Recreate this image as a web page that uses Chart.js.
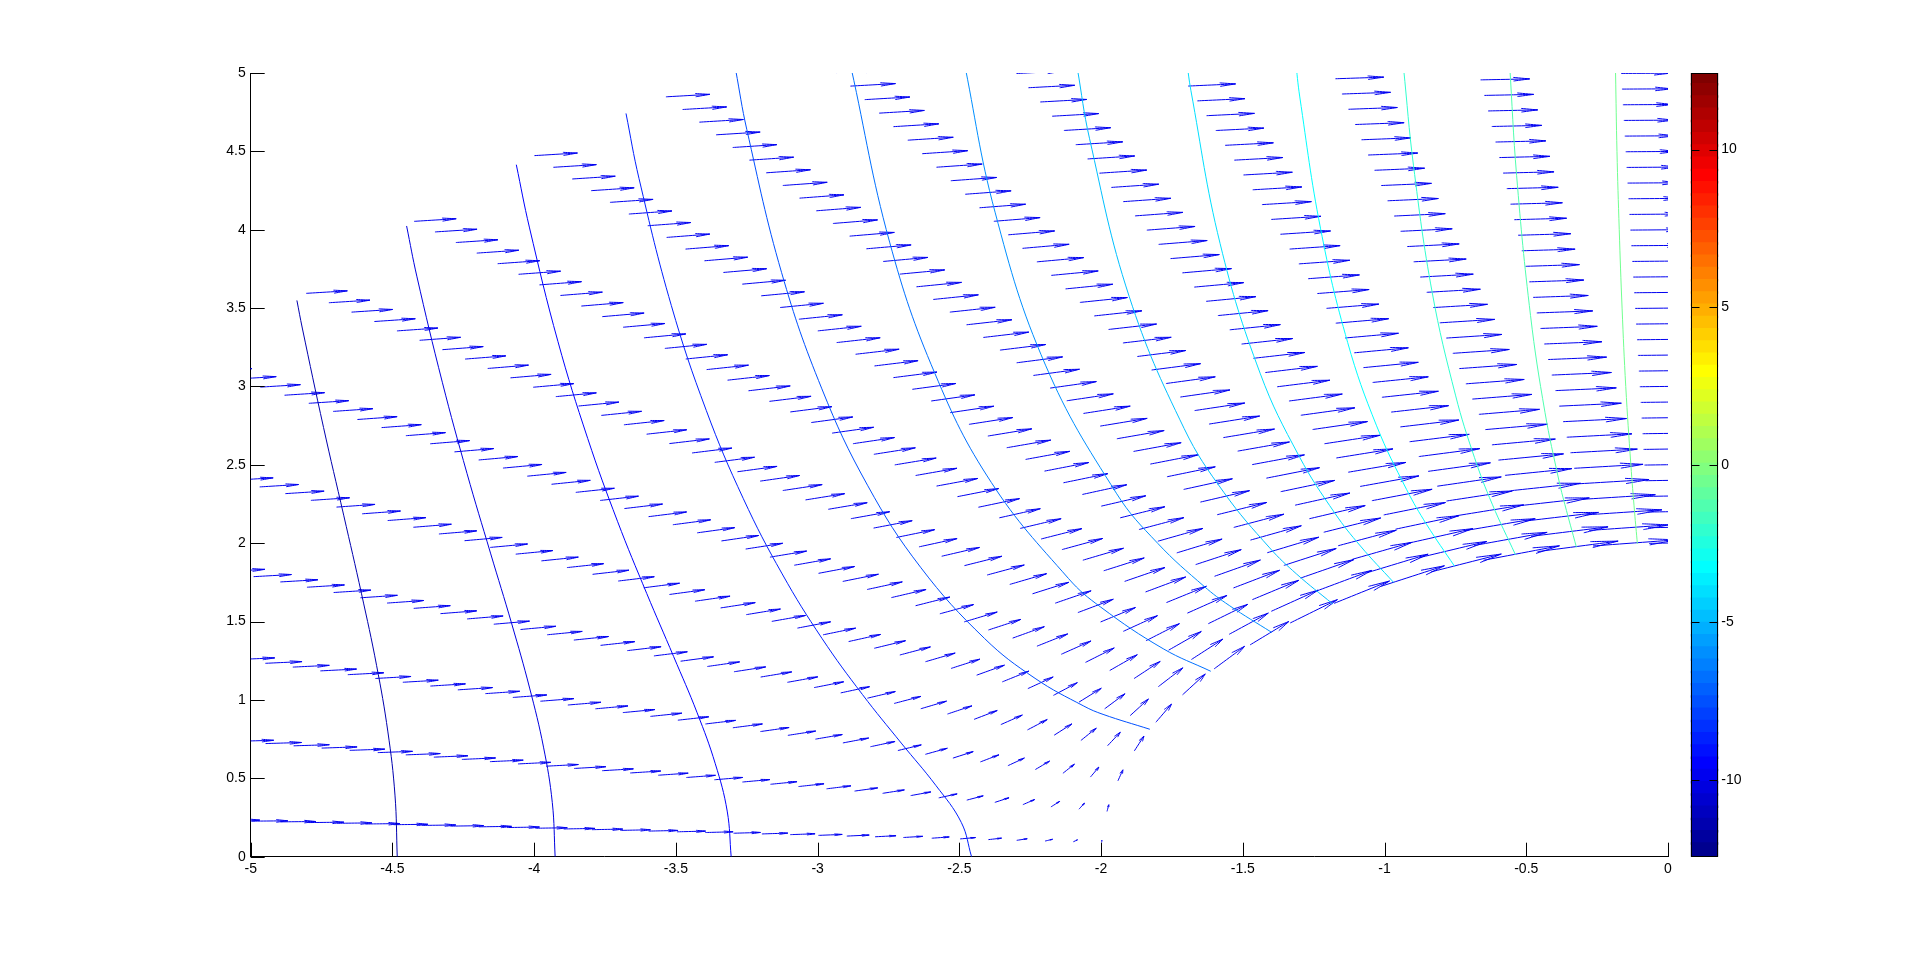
<!DOCTYPE html>
<html>
<head>
<meta charset="utf-8">
<title>Flow past a cylinder - quiver and potential lines</title>
<script src="https://cdn.jsdelivr.net/npm/chart.js@4.4.1/dist/chart.umd.min.js"></script>
<style>
    html, body { margin: 0; padding: 0; background: #fff; overflow: hidden; }
    #wrap { position: relative; width: 1921px; height: 963px; }
    #quiver { position: absolute; left: 0; top: 0; }
    #cbar { position: absolute; left: 1670px; top: 0; }
</style>
</head>
<body>
<div id="wrap">
    <canvas id="quiver" width="1921" height="963"></canvas>
    <canvas id="cbar" width="120" height="963"></canvas>
</div>
<script>
// axis ticks
const xTicks = [-5, -4.5, -4, -3.5, -3, -2.5, -2, -1.5, -1, -0.5, 0];
const yTicks = [0, 0.5, 1, 1.5, 2, 2.5, 3, 3.5, 4, 4.5, 5];
const cbarTicks = [-10, -5, 0, 5, 10];
const cbarMin = -12.43;
const cbarMax = 12.43;

const rayAngles = [2.6, 8.3, 14.0, 19.7, 25.4, 31.1, 36.8, 42.5, 48.2, 53.9, 59.6, 65.3, 71.0, 76.7, 82.4, 88.1];
// stations along each ray
const radii = [2.0, 2.1, 2.2, 2.3, 2.4, 2.5, 2.6, 2.7, 2.8, 2.9,
               3.0, 3.1, 3.2, 3.3, 3.4, 3.5, 3.6, 3.7, 3.8, 3.9,
               4.0, 4.1, 4.2, 4.3, 4.4, 4.5, 4.6, 4.7, 4.8, 4.9,
               5.0, 5.1, 5.2, 5.3, 5.4, 5.5, 5.6, 5.7, 5.8, 5.9, 6.0];
const cylinderRadius = 2;     // inner edge of the arrow field
const arrowScale = 0.15;      // drawn length of a free-stream arrow (x units)

// potential value of each contour line (colorbar units), right to left
const contourLevels = [-0.45, -1.35, -2.26, -3.16, -4.06, -4.97, -5.87, -6.77, -7.67, -8.58, -9.48, -10.38, -11.29];

// contour lines, [x, y]
const iso0 = [[-0.108, 1.997], [-0.118, 2.2], [-0.131, 2.5], [-0.149, 3.0], [-0.162, 3.5], [-0.172, 4.0], [-0.180, 4.5], [-0.185, 5.0], [-0.188, 5.3]];
const iso1 = [[-0.323, 1.974], [-0.364, 2.248], [-0.385, 2.402], [-0.434, 2.835], [-0.485, 3.453], [-0.534, 4.345], [-0.559, 5.064]];
const iso2 = [[-0.538, 1.926], [-0.620, 2.249], [-0.683, 2.548], [-0.749, 2.940], [-0.832, 3.601], [-0.898, 4.412], [-0.933, 5.033]];
const iso3 = [[-0.753, 1.853], [-0.851, 2.118], [-0.922, 2.342], [-1.028, 2.749], [-1.130, 3.280], [-1.226, 4.010], [-1.299, 4.847], [-1.314, 5.081]];
const iso4 = [[-0.968, 1.750], [-1.085, 1.982], [-1.175, 2.191], [-1.301, 2.554], [-1.439, 3.085], [-1.580, 3.911], [-1.683, 4.887], [-1.698, 5.074]];
const iso5 = [[-1.183, 1.613], [-1.310, 1.803], [-1.405, 1.970], [-1.566, 2.322], [-1.707, 2.732], [-1.901, 3.575], [-2.041, 4.584], [-2.084, 5.031]];
const iso6 = [[-1.398, 1.431], [-1.548, 1.603], [-1.636, 1.724], [-1.800, 1.999], [-1.946, 2.319], [-2.196, 3.136], [-2.374, 4.112], [-2.486, 5.096]];
const iso7 = [[-1.613, 1.183], [-1.781, 1.327], [-2.001, 1.592], [-2.115, 1.775], [-2.387, 2.387], [-2.586, 3.082], [-2.746, 3.921], [-2.882, 5.034]];
const iso8 = [[-1.828, 0.813], [-1.993, 0.908], [-2.061, 0.961], [-2.233, 1.138], [-2.411, 1.392], [-2.637, 1.847], [-2.824, 2.370], [-2.985, 2.985], [-3.127, 3.726], [-3.250, 4.641], [-3.289, 5.018]];
const iso9 = [[-2.457, 0], [-2.493, 0.218], [-2.583, 0.455], [-2.705, 0.725], [-2.842, 1.035], [-2.984, 1.391], [-3.125, 1.804], [-3.262, 2.284], [-3.393, 2.848], [-3.516, 3.516], [-3.630, 4.326], [-3.676, 4.742]];
const iso10 = [[-3.305, 0], [-3.319, 0.291], [-3.361, 0.593], [-3.425, 0.918], [-3.508, 1.277], [-3.603, 1.680], [-3.706, 2.140], [-3.811, 2.668], [-3.916, 3.286], [-4.017, 4.017], [-4.063, 4.415]];
const iso11 = [[-3.926, 0], [-3.936, 0.345], [-3.967, 0.699], [-4.016, 1.076], [-4.079, 1.485], [-4.154, 1.937], [-4.237, 2.446], [-4.324, 3.027], [-4.414, 3.704], [-4.450, 4.024]];
const iso12 = [[-4.483, 0], [-4.491, 0.393], [-4.516, 0.796], [-4.556, 1.221], [-4.609, 1.677], [-4.672, 2.179], [-4.743, 2.738], [-4.818, 3.373], [-4.837, 3.549]];

const isolines = [iso0, iso1, iso2, iso3, iso4, iso5, iso6, iso7, iso8, iso9, iso10, iso11, iso12];

const FONT = { family: '"Liberation Sans", Arial, Helvetica, sans-serif', size: 14 };
const headLen = 0.33;
const headWid = 0.2;

// jet colormap, 64 steps like the matlab default
function jet(t) {
    const c = v => Math.round(255 * Math.max(0, Math.min(1, v)));
    return `rgb(${c(1.5 - Math.abs(4 * t - 3))},${c(1.5 - Math.abs(4 * t - 2))},${c(1.5 - Math.abs(4 * t - 1))})`;
}

function levelColor(level) {
    const t = (level - cbarMin) / (cbarMax - cbarMin);
    const idx = Math.max(0, Math.min(63, Math.floor(t * 64)));
    return jet((idx + 1) / 64);
}

// quiver arrows: shaft + two head strokes, gaps split the segments
function buildArrows() {
    const pts = [];
    const gap = () => ({ x: null, y: null });
    rayAngles.forEach(deg => {
        const th = Math.PI - deg * Math.PI / 180;
        radii.forEach(r => {
            const x = r * Math.cos(th);
            const y = r * Math.sin(th);
            const q = (cylinderRadius * cylinderRadius) / (r * r);
            const u = arrowScale * (1 - q * Math.cos(2 * th));
            const v = arrowScale * (-q * Math.sin(2 * th));
            const tx = x + u, ty = y + v;
            pts.push({ x: x, y: y }, { x: tx, y: ty }, gap());
            pts.push({ x: tx - headLen * (u + headWid * v), y: ty - headLen * (v - headWid * u) });
            pts.push({ x: tx, y: ty });
            pts.push({ x: tx - headLen * (u - headWid * v), y: ty - headLen * (v + headWid * u) }, gap());
        });
    });
    return pts;
}

const contourSets = isolines.map((line, i) => ({
    label: 'phi ' + contourLevels[i],
    data: line.map(p => ({ x: p[0], y: p[1] })),
    showLine: true,
    borderColor: levelColor(contourLevels[i]),
    borderWidth: 1,
    pointRadius: 0,
    pointHitRadius: 0,
    tension: 0.4,
    capBezierPoints: false,
    fill: false,
    clip: 0
}));

const arrowSet = {
    label: 'velocity',
    data: buildArrows(),
    showLine: true,
    borderColor: '#0000f0',
    borderWidth: 1,
    pointRadius: 0,
    pointHitRadius: 0,
    tension: 0.000001,
    capBezierPoints: false,
    spanGaps: false,
    fill: false,
    clip: 0
};

// matlab puts the tick marks inside the box
const inwardTicks = {
    id: 'inwardTicks',
    afterDraw(chart) {
        const { ctx, chartArea: a, scales } = chart;
        ctx.save();
        ctx.strokeStyle = '#000';
        ctx.lineWidth = 1;
        ctx.beginPath();
        scales.x.ticks.forEach(t => {
            const px = Math.round(scales.x.getPixelForValue(t.value)) + 0.5;
            ctx.moveTo(px, a.bottom);
            ctx.lineTo(px, a.bottom - 14);
        });
        scales.y.ticks.forEach(t => {
            const py = Math.round(scales.y.getPixelForValue(t.value)) + 0.5;
            ctx.moveTo(a.left, py);
            ctx.lineTo(a.left + 14, py);
        });
        ctx.stroke();
        ctx.restore();
    }
};

new Chart(document.getElementById('quiver'), {
    type: 'scatter',
    data: { datasets: [...contourSets, arrowSet] },
    options: {
        responsive: false,
        animation: false,
        devicePixelRatio: 1,
        events: [],
        layout: { padding: { left: 0, right: 253, top: 73, bottom: 66.3 } },
        plugins: { legend: { display: false }, tooltip: { enabled: false } },
        scales: {
            x: {
                type: 'linear',
                min: -5,
                max: 0,
                afterBuildTicks: s => { s.ticks = xTicks.map(v => ({ value: v })); },
                afterFit: s => { s.height = 40; },
                grid: { display: true, drawOnChartArea: false, drawTicks: false },
                border: { display: true, color: '#000', width: 1 },
                ticks: { color: '#000', font: FONT, padding: 4, maxRotation: 0, autoSkip: false, callback: v => String(v) }
            },
            y: {
                type: 'linear',
                min: 0,
                max: 5,
                afterBuildTicks: s => { s.ticks = yTicks.map(v => ({ value: v })); },
                afterFit: s => { s.width = 250.7; },
                grid: { display: true, drawOnChartArea: false, drawTicks: false },
                border: { display: true, color: '#000', width: 1 },
                ticks: { color: '#000', font: FONT, padding: 5, autoSkip: false, callback: v => String(v) }
            }
        }
    },
    plugins: [inwardTicks]
});

// colorbar: 64 jet bands
const bandStep = (cbarMax - cbarMin) / 64;
const bandSets = [];
for (let i = 0; i < 64; i++) {
    const lo = cbarMin + i * bandStep;
    bandSets.push({
        data: [[lo, Math.min(cbarMax, lo + bandStep * 1.15)]],
        backgroundColor: jet((i + 1) / 64),
        borderWidth: 0,
        grouped: false,
        barPercentage: 1,
        categoryPercentage: 1
    });
}

const cbarFrame = {
    id: 'cbarFrame',
    afterDraw(chart) {
        const { ctx, chartArea: a, scales } = chart;
        const l = Math.round(a.left) + 0.5, r = Math.round(a.right) - 0.5;
        const t = Math.round(a.top) + 0.5, b = Math.round(a.bottom) - 0.5;
        ctx.save();
        ctx.strokeStyle = '#000';
        ctx.lineWidth = 1;
        ctx.strokeRect(l, t, r - l, b - t);
        ctx.beginPath();
        scales.y.ticks.forEach(tk => {
            const py = Math.round(scales.y.getPixelForValue(tk.value)) + 0.5;
            ctx.moveTo(l, py); ctx.lineTo(l + 8, py);
            ctx.moveTo(r, py); ctx.lineTo(r - 8, py);
        });
        ctx.stroke();
        ctx.restore();
    }
};

new Chart(document.getElementById('cbar'), {
    type: 'bar',
    data: { labels: [''], datasets: bandSets },
    options: {
        responsive: false,
        animation: false,
        devicePixelRatio: 1,
        events: [],
        layout: { padding: { left: 20.7, right: 0, top: 73, bottom: 106.3 } },
        plugins: { legend: { display: false }, tooltip: { enabled: false } },
        scales: {
            x: { display: false },
            y: {
                position: 'right',
                min: cbarMin,
                max: cbarMax,
                afterBuildTicks: s => { s.ticks = cbarTicks.map(v => ({ value: v })); },
                afterFit: s => { s.width = 71.7; },
                grid: { display: true, drawOnChartArea: false, drawTicks: false },
                border: { display: false },
                ticks: { color: '#000', font: FONT, padding: 3, autoSkip: false, callback: v => String(v) }
            }
        }
    },
    plugins: [cbarFrame]
});
</script>
</body>
</html>
